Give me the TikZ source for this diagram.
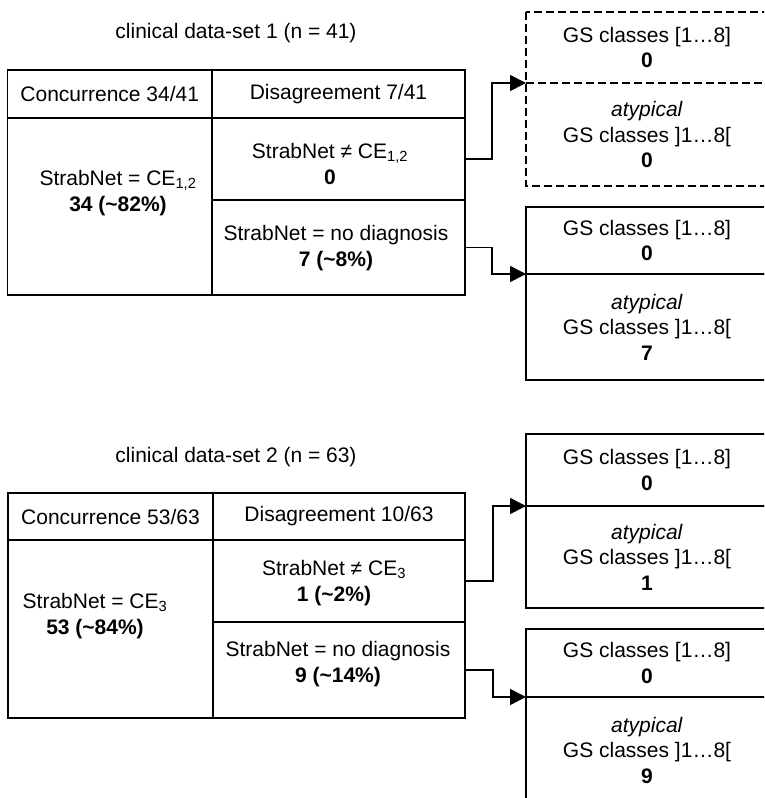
\documentclass[tikz,border=0pt]{standalone}
\usepackage{fontspec}
\setmainfont{Liberation Sans}
\usepackage{tikz}
\usetikzlibrary{positioning,arrows.meta}

\tikzset{
  cellbox/.style={draw, line width=1.7pt, outer sep=0pt, inner sep=0pt, anchor=north west, align=center},
  gsbox/.style={cellbox, minimum width=242},
  dashbox/.style={gsbox, draw=none},
  dashline/.style={line width=1.7pt, dash pattern=on 8pt off 4pt},
  txt/.style={align=center, inner sep=0pt},
  conn/.style={line width=1.7pt, -{Triangle[length=16pt,width=16pt]}}
}

\begin{document}
\begin{tikzpicture}[x=1pt,y=-1pt,
    every node/.style={font=\fontsize{21}{25.5}\selectfont}]
    \useasboundingbox (0,0) rectangle (764,798);
    \clip (0,0) rectangle (764,798);

    % data-set 1
    \node[txt] (title1) at (236,33) {clinical data-set 1 (n = 41)};
    \begin{scope}[every node/.append style={cellbox}]
        \node[minimum width=204.5, minimum height=48] (conc1) at (7.5,70) {Concurrence 34/41};
        \node[minimum width=253, minimum height=48] (disa1) at (212,70) {Disagreement 7/41};
        \node[minimum width=204.5, minimum height=177] (same1) at (7.5,118) {};
        \node[minimum width=253, minimum height=82] (neq1) at (212,118) {};
        \node[minimum width=253, minimum height=95] (nodiag1) at (212,200) {};
    \end{scope}
    \node[txt] (sametxt1) at (118,193) {StrabNet = CE\textsubscript{1,2}\\\textbf{34 (\textasciitilde82\%)}};
    \node[txt] (neqtxt1) at (330,164) {StrabNet ≠ CE\textsubscript{1,2}\\\textbf{0}};
    \node[txt] (nodiagtxt1) at (336,248) {StrabNet = no diagnosis\\\textbf{7 (\textasciitilde8\%)}};

    \node[dashbox, minimum height=71] (gsA1) at (526,12) {GS classes [1…8]\\\textbf{0}};
    \node[dashbox, minimum height=103] (atA1) at (526,83) {\textit{atypical}\\GS classes ]1…8[\\\textbf{0}};
    \draw[dashline] (gsA1.north west) rectangle (atA1.south east);
    \draw[dashline] (gsA1.south west) -- (gsA1.south east);
    \node[gsbox, minimum height=67] (gsB1) at (526,207) {GS classes [1…8]\\\textbf{0}};
    \node[gsbox, minimum height=106] (atB1) at (526,274) {\textit{atypical}\\GS classes ]1…8[\\\textbf{7}};

    \draw[conn] (neq1.east) -- ++(27,0) |- (gsA1.south west);
    \draw[conn] (nodiag1.east) -- ++(27,0) |- (gsB1.south west);

    % data-set 2
    \node[txt] (title2) at (236,457) {clinical data-set 2 (n = 63)};
    \begin{scope}[every node/.append style={cellbox}]
        \node[minimum width=205, minimum height=47] (conc2) at (8,493) {Concurrence 53/63};
        \node[minimum width=252, minimum height=47] (disa2) at (213,493) {Disagreement 10/63};
        \node[minimum width=205, minimum height=178] (same2) at (8,540) {};
        \node[minimum width=252, minimum height=82] (neq2) at (213,540) {};
        \node[minimum width=252, minimum height=96] (nodiag2) at (213,622) {};
    \end{scope}
    \node[txt] (sametxt2) at (95,616) {StrabNet = CE\textsubscript{3}\\\textbf{53 (\textasciitilde84\%)}};
    \node[txt] (neqtxt2) at (334,583) {StrabNet ≠ CE\textsubscript{3}\\\textbf{1 (\textasciitilde2\%)}};
    \node[txt] (nodiagtxt2) at (338,664) {StrabNet = no diagnosis\\\textbf{9 (\textasciitilde14\%)}};

    \node[gsbox, minimum height=72] (gsA2) at (526,434) {GS classes [1…8]\\\textbf{0}};
    \node[gsbox, minimum height=102] (atA2) at (526,506) {\textit{atypical}\\GS classes ]1…8[\\\textbf{1}};
    \node[gsbox, minimum height=68] (gsB2) at (526,629) {GS classes [1…8]\\\textbf{0}};
    \node[gsbox, minimum height=106] (atB2) at (526,697) {\textit{atypical}\\GS classes ]1…8[\\\textbf{9}};

    \draw[conn] (neq2.east) -- ++(28,0) |- (gsA2.south west);
    \draw[conn] (nodiag2.east) -- ++(28,0) |- (gsB2.south west);
\end{tikzpicture}
\end{document}
